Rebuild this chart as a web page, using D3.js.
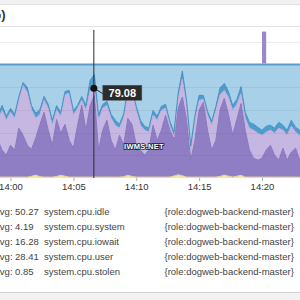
<!DOCTYPE html>
<html>
<head>
<meta charset="utf-8">
<script src="https://cdn.jsdelivr.net/npm/d3@7"></script>
<style>
  body { margin: 0; background: #fff; }
  svg { display: block; font-family: "Liberation Sans", Arial, sans-serif; }
</style>
</head>
<body>
<div id="graph"></div>
<script>
// samples every 20 s starting 13:59:00
const startTime = new Date(2013, 4, 1, 13, 59, 0);
const stepSec = 20;

const stolen = [0.8,0.8,0.8,0.8,0.8,0.8,0.8,0.8,1.5,2.6,
  1.2,0.8,0.8,0.8,1.4,2.4,1.6,0.8,0.8,0.8,
  0.8,0.8,0.8,0.8,0.8,0.8,0.8,0.8,0.8,0.8,
  1.2,2.4,1.4,0.8,0.8,0.8,0.8,0.8,0.8,0.8,
  0.8,0.8,1.8,2.8,2.0,0.8,0.8,0.8,0.8,0.8,
  0.8,0.8,0.8,1.4,2.6,1.6,0.8,1.6,2.4,0.8,
  0.8,0.8,0.8,0.8,0.8,0.8,0.8,0.8,0.8,0.8,
  0.8,0.8,0.8,0.8];
const user = [32.5,23.8,19.4,28.1,23.8,43.1,36.9,28.1,23.8,32.5,
  45.7,57.1,41.3,28.1,50.1,36.9,45.7,32.5,25.5,45.7,
  63.2,41.3,63.2,72.0,23.8,41.3,50.1,32.5,23.8,36.9,
  28.1,50.1,45.7,28.1,23.8,19.4,23.8,45.7,32.5,41.3,
  54.5,41.3,32.5,58.8,69.4,50.1,15.0,32.5,58.8,65.9,
  41.3,23.8,32.5,58.8,67.6,54.5,36.9,50.1,63.2,41.3,
  23.8,16.7,15.0,16.7,23.8,28.1,19.4,15.0,25.5,15.0,
  22.0,25.5,15.0,16.7];
const iowait = [17.6,35.0,30.7,29.0,28.0,24.5,43.9,46.5,35.0,17.6,
  8.8,10.5,19.3,17.6,8.7,14.9,26.3,41.3,29.0,14.9,
  4.4,17.5,13.2,6.28,26.3,19.3,13.1,19.3,21.9,6.2,
  23.7,21.9,28.9,30.7,21.9,21.9,15.8,8.8,17.6,17.5,
  6.1,4.4,1.8,8.8,15.8,13.1,8.8,17.6,8.8,2.6,
  13.2,21.9,26.3,13.2,7.0,14.9,21.9,13.1,8.8,10.5,
  19.3,24.6,23.7,20.2,15.8,13.2,19.3,28.1,15.8,21.9,
  22.8,14.1,21.9,21.1];
const system = [4.4,4.4,3.5,3.5,3.5,3.5,2.6,4.4,3.6,4.4,
  4.3,3.5,3.5,4.4,3.6,3.5,2.6,2.6,4.3,2.6,
  3.5,4.4,8.8,12.1,4.4,3.5,3.5,3.5,4.4,3.5,
  3.5,3.5,3.5,3.6,4.4,3.5,3.5,4.3,3.5,3.6,
  3.5,3.5,4.4,4.4,7.0,4.4,3.5,4.4,4.4,3.5,
  3.5,3.5,3.6,6.1,6.2,5.2,4.4,4.4,6.1,5.3,
  5.2,5.3,5.2,4.4,5.2,4.4,4.4,5.2,4.4,4.4,
  5.3,4.3,4.4,4.4];
const idle = [44.7,36.0,45.6,38.6,43.9,28.1,15.8,20.2,36.1,42.9,
  40.0,28.1,35.1,49.1,36.2,42.3,23.8,22.8,40.4,36.0,
  28.1,36.0,14.0,8.8,44.7,35.1,32.5,43.9,49.1,52.6,
  43.5,22.1,20.5,36.8,49.1,54.4,56.1,40.4,45.6,36.8,
  35.1,50.0,59.5,25.2,5.8,31.6,71.9,44.7,27.2,27.2,
  41.2,50.0,36.8,20.5,16.6,23.8,36.0,30.8,19.5,42.1,
  50.9,52.6,55.3,57.9,54.4,53.5,56.1,50.9,53.5,57.9,
  49.1,55.3,57.9,57.0];

// short burst above 100% around 14:20
const spikeStart = new Date(2013, 4, 1, 14, 20, 0);
const spikeEnd = new Date(2013, 4, 1, 14, 20, 20);
const spikeValue = 129;

// hovered sample
const hoverIndex = 23;
const hoverLabel = "79.08";

const legendNames = ["system.cpu.idle", "system.cpu.system", "system.cpu.iowait", "system.cpu.user", "system.cpu.stolen"];
const legendAvg = ["50.27", "4.19", "16.28", "28.41", "0.85"];
const legendScope = "{role:dogweb-backend-master}";
const gridValues = [20, 40, 60, 80, 100, 120];

const keys = ["stolen", "user", "iowait", "system", "idle"];
const colors = { stolen: "#f3e6a6", user: "#8f7ec4", iowait: "#c6b7e2", system: "#4f9dcf", idle: "#a8d0e8" };
const strokes = { stolen: "#e8d48a", user: "#8676bd", iowait: "#bfaedd", system: "#468fc2", idle: "#a8d0e8" };

const data = user.map((u, i) => ({
  time: new Date(startTime.getTime() + i * stepSec * 1000),
  stolen: stolen[i], user: u, iowait: iowait[i], system: system[i], idle: idle[i]
}));

const W = 300, H = 300;
const svg = d3.select("#graph").append("svg").attr("width", W).attr("height", H);

const x = d3.scaleTime()
  .domain([new Date(2013, 4, 1, 14, 0, 0), new Date(2013, 4, 1, 14, 20, 0)])
  .range([10.5, 262]);
const y = d3.scaleLinear().domain([0, 100]).range([178, 64.5]);

// frame
svg.append("rect").attr("x", 0).attr("y", 0).attr("width", W).attr("height", 4).attr("fill", "#f1f1f1");
svg.append("line").attr("x1", 0).attr("x2", W).attr("y1", 4.5).attr("y2", 4.5).attr("stroke", "#e2e2e2");
svg.append("text").attr("x", 5.5).attr("y", 19).attr("text-anchor", "end")
  .attr("font-size", 13).attr("font-weight", "bold").attr("fill", "#333").text("(%)");
svg.append("line").attr("x1", 0).attr("x2", W).attr("y1", 26.5).attr("y2", 26.5).attr("stroke", "#e3e3e3");

// gridlines under the areas
svg.append("g").selectAll("line").data(gridValues).join("line")
  .attr("x1", 0).attr("x2", W)
  .attr("y1", d => Math.round(y(d)) + 0.5).attr("y2", d => Math.round(y(d)) + 0.5)
  .attr("stroke", "#ececec");

// stacked areas
const series = d3.stack().keys(keys)(data);
const area = d3.area().x(d => x(d.data.time)).y0(d => y(d[0])).y1(d => y(d[1]));
const line = d3.line().x(d => x(d.data.time)).y(d => y(d[1]));

svg.append("g").selectAll("path").data(series).join("path")
  .attr("d", area).attr("fill", d => colors[d.key]);
svg.append("g").selectAll("path").data(series.filter(s => s.key !== "idle")).join("path")
  .attr("d", line).attr("fill", "none").attr("stroke", d => strokes[d.key]).attr("stroke-width", 1);
svg.append("path").datum(series[4]).attr("d", line)
  .attr("fill", "none").attr("stroke", "#5d9cc7").attr("stroke-width", 2);

// gridlines over the areas, faint
svg.append("g").selectAll("line").data(gridValues.filter(d => d < 100)).join("line")
  .attr("x1", 0).attr("x2", W)
  .attr("y1", d => Math.round(y(d)) + 0.5).attr("y2", d => Math.round(y(d)) + 0.5)
  .attr("stroke", "rgba(60,60,90,0.08)");

// spike
svg.append("rect")
  .attr("x", x(spikeStart)).attr("width", x(spikeEnd) - x(spikeStart))
  .attr("y", y(spikeValue)).attr("height", y(100) - y(spikeValue) - 1)
  .attr("fill", "#9a89c8");

// x axis
const xAxis = d3.axisBottom(x)
  .ticks(d3.timeMinute.every(5))
  .tickFormat(d3.timeFormat("%H:%M"))
  .tickSize(3).tickPadding(2);
const gx = svg.append("g").attr("transform", "translate(0,178)").call(xAxis);
gx.select(".domain").remove();
gx.selectAll("line").attr("stroke", "#aaa");
gx.selectAll("text").attr("font-size", 9.5).attr("fill", "#333")
  .attr("font-family", "'Liberation Sans', Arial, sans-serif");

// watermark
svg.append("text").attr("x", 144).attr("y", 149).attr("text-anchor", "middle")
  .attr("font-size", 7.5).attr("font-weight", "bold").attr("fill", "#fff")
  .attr("stroke", "#222").attr("stroke-width", 1.6).attr("paint-order", "stroke")
  .attr("letter-spacing", 0.3).text("IWMS.NET");

// hover
const hd = data[hoverIndex];
const hx = x(hd.time) - 0.5;
const hy = y(hd.stolen + hd.user + hd.iowait);
svg.append("line").attr("x1", hx).attr("x2", hx).attr("y1", 30).attr("y2", 178)
  .attr("stroke", "#2a2a2a").attr("stroke-width", 1);
svg.append("line").attr("x1", hx).attr("y1", hy).attr("x2", hx + 10).attr("y2", hy + 6)
  .attr("stroke", "#2a2a2a").attr("stroke-width", 1);
svg.append("circle").attr("cx", hx).attr("cy", hy).attr("r", 3.5).attr("fill", "#111");
svg.append("rect").attr("x", hx + 9).attr("y", hy - 3).attr("width", 39).attr("height", 15)
  .attr("fill", "#2b2b2b").attr("stroke", "#555").attr("stroke-width", 0.5);
svg.append("text").attr("x", hx + 28.5).attr("y", hy + 9).attr("text-anchor", "middle")
  .attr("font-size", 11).attr("font-weight", "bold").attr("fill", "#fff").text(hoverLabel);

// legend
const rows = svg.append("g").selectAll("g").data(legendNames).join("g")
  .attr("transform", (d, i) => `translate(0,${214.5 + i * 15})`)
  .attr("font-size", 9.5).attr("fill", "#444");
rows.append("text").attr("x", -6.3).text("Avg:");
rows.append("text").attr("x", 15).text((d, i) => legendAvg[i]);
rows.append("text").attr("x", 44).text(d => d);
rows.append("text").attr("x", 164.5).text(legendScope);

// bottom strip
svg.append("rect").attr("x", 0).attr("y", 293).attr("width", W).attr("height", 7).attr("fill", "#f2f2f2");
svg.append("line").attr("x1", 0).attr("x2", W).attr("y1", 292.5).attr("y2", 292.5).attr("stroke", "#d2d2d2");
</script>
</body>
</html>
